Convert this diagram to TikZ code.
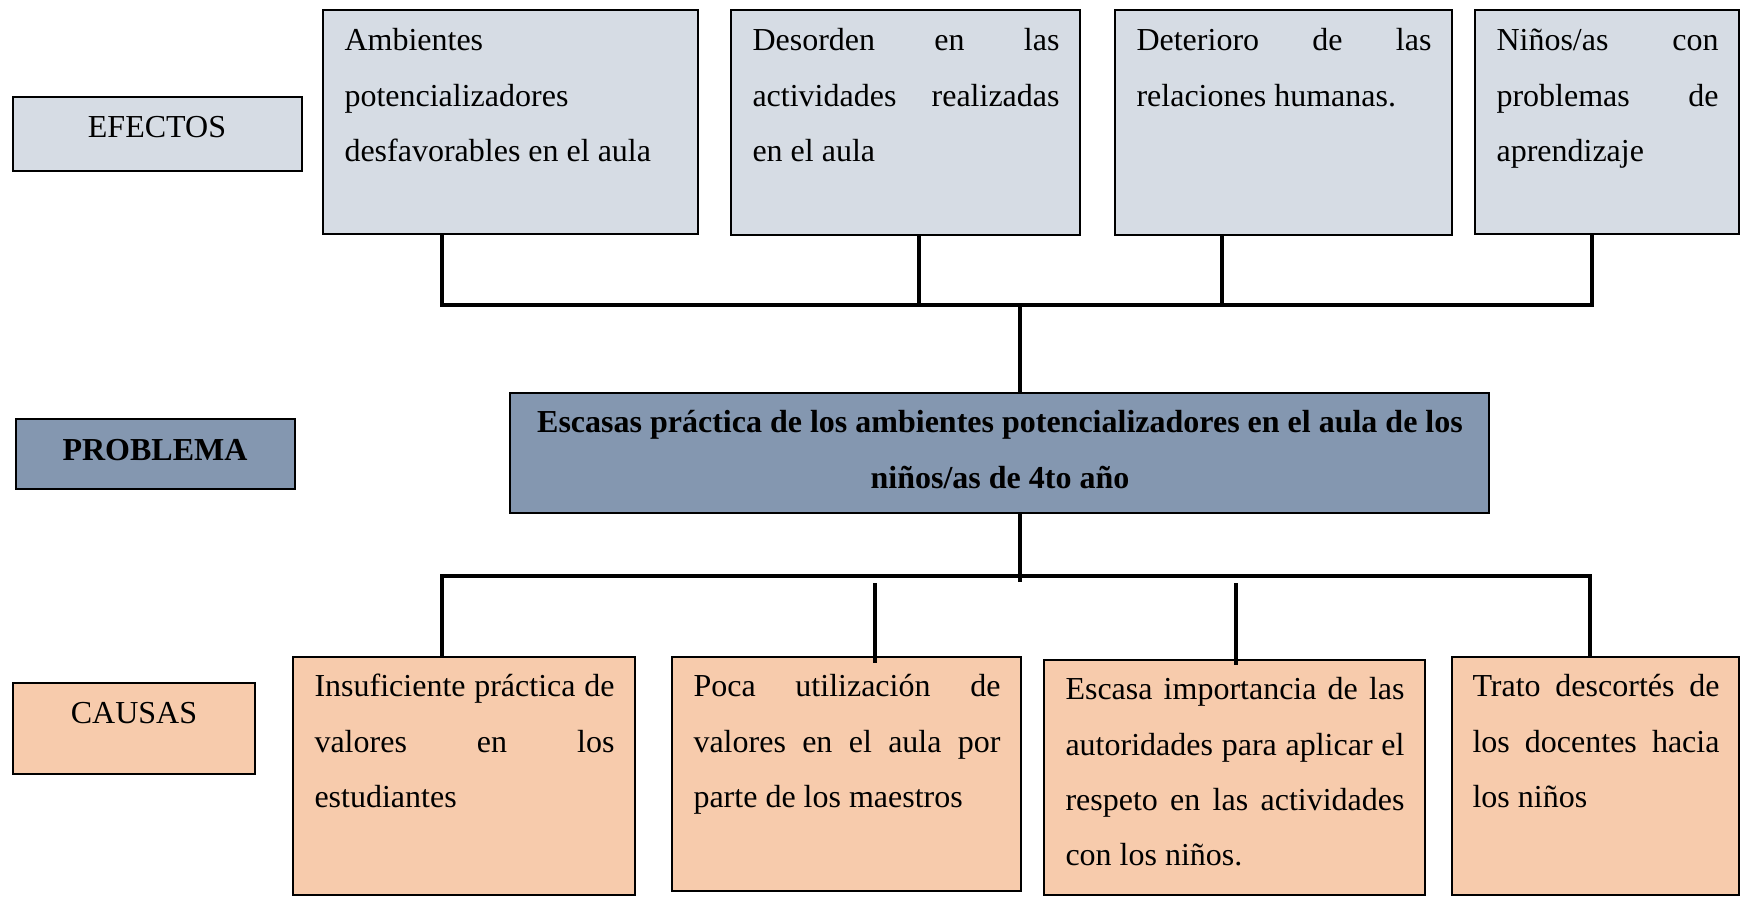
\documentclass[tikz,border=0pt]{standalone}
\usepackage{fontspec}
\setmainfont{Liberation Serif}
\usetikzlibrary{calc}
\definecolor{efc}{HTML}{D6DCE4}
\definecolor{prc}{HTML}{8497B0}
\definecolor{cac}{HTML}{F7CBAC}
\hbadness=10000
\hfuzz=8pt
\newdimen\pxu \pxu=0.375pt
\newcommand\jl[2]{\makebox[#1\pxu][s]{#2}}
\newcommand\wsp{\spaceskip=0pt\xspaceskip=0pt\relax}
\begin{document}
\begin{tikzpicture}[x=0.375pt,y=-0.375pt,
  bx/.style={draw=black, line width=0.8pt, anchor=north west, inner sep=0pt, outer sep=0pt},
  efbox/.style={bx, fill=efc},
  prbox/.style={bx, fill=prc},
  cabox/.style={bx, fill=cac},
  sz/.style 2 args={minimum width=#1*0.375pt, minimum height=#2*0.375pt},
  tw/.style={text width=#1*0.375pt},
  txt/.style={anchor=north west, inner sep=0pt, align=left, font=\fontsize{12}{20.8}\selectfont},
  lbl/.style={anchor=base, inner sep=0pt, font=\fontsize{12}{20.8}\selectfont},
  bus/.style={line width=1.5pt, line join=miter},
  stem/.style={line width=1.2pt}]
\useasboundingbox (0,0) rectangle (1741,897);

% effects
\node[efbox, sz={289}{74}] (efl) at (13,97) {};
\node[lbl] (eflt) at (157,137) {EFECTOS};
\node[efbox, sz={375}{224}] (e1) at (323,10) {};
\node[efbox, sz={349}{225}] (e2) at (731,10) {};
\node[efbox, sz={337}{225}] (e3) at (1115,10) {};
\node[efbox, sz={264}{224}] (e4) at (1475,10) {};
\node[txt, tw=333] (e1t) at ($(e1.north west)+(21,1.2)$) {\wsp\strut Ambientes\\ potencializadores\\ desfavorables en el aula};
\node[txt, tw=307] (e2t) at ($(e2.north west)+(21,1.2)$) {\wsp\strut\jl{307}{Desorden en las}\\ \jl{307}{actividades realizadas}\\ en el aula};
\node[txt, tw=295] (e3t) at ($(e3.north west)+(21,1.2)$) {\wsp\strut\jl{295}{Deterioro de las}\\ relaciones humanas.};
\node[txt, tw=223] (e4t) at ($(e4.north west)+(21,1.2)$) {\wsp\strut\jl{222}{Niños/as con}\\ \jl{222}{problemas de}\\ aprendizaje};

% problem
\node[prbox, sz={279}{70}] (prl) at (16,419) {};
\node[lbl, font=\fontsize{12}{20.8}\selectfont\bfseries] (prlt) at (155,460) {PROBLEMA};
\node[prbox, sz={979}{120}] (pb) at (510,393) {};
\node[txt, anchor=north, align=center, tw=960, font=\fontsize{12}{20.8}\selectfont\bfseries] (pbt) at ($(pb.north)+(0.5,0.2)$) {\spaceskip=3pt\relax\strut Escasas práctica de los ambientes potencializadores en el aula de los\\ niños/as de 4to año};

% causes
\node[cabox, sz={242}{91}] (cal) at (13,683) {};
\node[lbl] (calt) at (134,723) {CAUSAS};
\node[cabox, sz={342}{238}] (c1) at (293,657) {};
\node[cabox, sz={349}{234}] (c2) at (672,657) {};
\node[cabox, sz={381}{235}] (c3) at (1044,660) {};
\node[cabox, sz={287}{238}] (c4) at (1452,657) {};
\node[txt, tw=300] (c1t) at ($(c1.north west)+(21,0.2)$) {\wsp\strut\jl{300}{Insuficiente práctica de}\\ \jl{300}{valores en los}\\ estudiantes};
\node[txt, tw=307] (c2t) at ($(c2.north west)+(21,0.2)$) {\wsp\strut\jl{307}{Poca utilización de}\\ \jl{307}{valores en el aula por}\\ parte de los maestros};
\node[txt, tw=339] (c3t) at ($(c3.north west)+(21,0.2)$) {\wsp\strut\jl{339}{Escasa importancia de las}\\ \jl{339}{autoridades para aplicar el}\\ \jl{339}{respeto en las actividades}\\ con los niños.};
\node[txt, tw=248] (c4t) at ($(c4.north west)+(20,0.2)$) {\wsp\strut\jl{247}{Trato descortés de}\\ \jl{247}{los docentes hacia}\\ los niños};

% top connectors
\coordinate (tb1) at (442,305);
\coordinate (tb2) at (919,305);
\coordinate (tb3) at (1222,305);
\coordinate (tb4) at (1592,305);
\coordinate (tbm) at (1020,307);
\draw[bus] ($(e1.south west)+(119,0)$) -- (tb1) -- (tb4) -- ($(e4.south west)+(117,0)$);
\draw[stem] ($(e2.south west)+(188,0)$) -- (tb2);
\draw[stem] ($(e3.south west)+(107,0)$) -- (tb3);
\draw[stem] (tbm) -- ($(pb.north west)+(510,0)$);

% bottom connectors
\coordinate (bbm) at (1020,582);
\coordinate (bb1) at (442,576);
\coordinate (bb4) at (1590,576);
\coordinate (bb2) at (875,583);
\coordinate (bb3) at (1236,583);
\draw[stem] ($(pb.south west)+(510,0)$) -- (bbm);
\draw[bus] ($(c1.north west)+(149,0)$) -- (bb1) -- (bb4) -- ($(c4.north west)+(138,0)$);
\draw[stem] (bb2) -- ($(c2.north west)+(203,6)$);
\draw[stem] (bb3) -- ($(c3.north west)+(192,5)$);
\end{tikzpicture}
\end{document}
